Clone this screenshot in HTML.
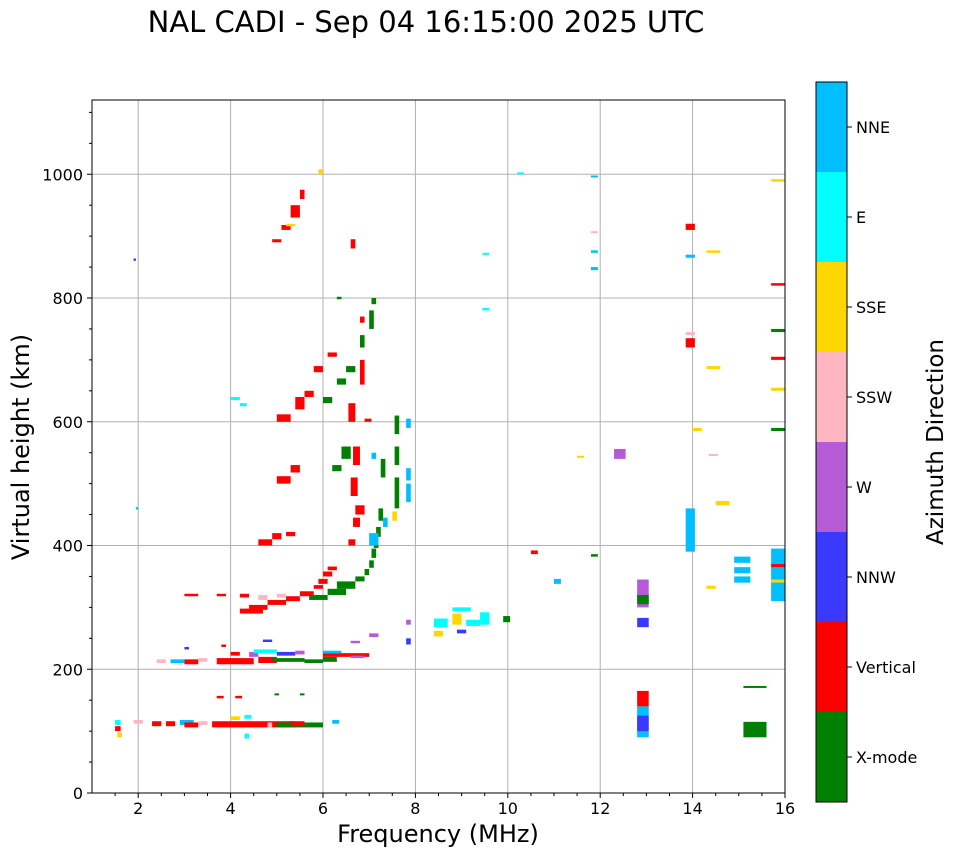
<!DOCTYPE html>
<html><head><meta charset="utf-8"><style>
body{margin:0;background:#fff;}
svg{display:block;font-family:"DejaVu Sans","Liberation Sans",sans-serif;}
</style></head><body>
<svg id="chart" width="958" height="857" viewBox="0 0 958 857" xmlns="http://www.w3.org/2000/svg">
<text x="426" y="32" font-size="29" text-anchor="middle">NAL CADI - Sep 04 16:15:00 2025 UTC</text>
<g id="grid"></g>
<g id="marks"></g>
<rect x="92" y="100" width="693" height="693" fill="none" stroke="#000" stroke-width="1"/>
<g id="axes"></g>
<text x="438" y="842" font-size="24" text-anchor="middle">Frequency (MHz)</text>
<text transform="translate(29,447) rotate(-90)" font-size="24" text-anchor="middle">Virtual height (km)</text>
<g id="cbar"></g>
<text transform="translate(943,442) rotate(-90)" font-size="23" text-anchor="middle">Azimuth Direction</text>
</svg>
<script>
const categories = ["X-mode","Vertical","NNW","W","SSW","SSE","E","NNE"];
const catColors = ["#008000","#ff0000","#3a3aff","#b55bd6","#ffb6c1","#ffd700","#00ffff","#00bfff"];
const xTicks = [2,4,6,8,10,12,14,16];
const yTicks = [0,200,400,600,800,1000];
// echoes: [freqStart, freqEnd, heightStart, heightEnd, categoryIndex]
const echoes = [
[1.5,1.62,110,118,6],[1.5,1.62,100,108,1],[1.55,1.65,90,98,5],[1.9,2.1,112,118,4],[2.3,2.5,108,116,1],[2.6,2.8,108,116,1],[2.9,3.2,110,118,7],[3.0,3.3,106,114,1],[3.3,3.5,110,116,4],[3.6,5.4,106,116,1],[4.0,4.2,118,124,5],[4.3,4.4,88,96,6],[5.0,6.0,106,114,0],[5.3,5.6,108,116,1],[6.2,6.35,112,118,7],[4.3,4.45,120,126,6],[4.8,4.9,106,114,4],
[4.95,5.05,158,161,0],[5.5,5.6,158,161,0],[3.7,3.85,153,157,1],[4.1,4.25,153,157,1],
[2.4,2.6,210,216,4],[2.7,3.0,210,216,7],[3.0,3.3,208,216,1],[3.3,3.5,212,218,4],[3.7,4.5,208,218,1],[4.0,4.2,222,228,1],[4.4,4.6,220,228,3],[4.6,5.0,210,220,1],[4.5,5.0,226,232,6],[4.9,5.6,212,218,0],[5.0,5.4,222,228,2],[5.6,6.0,210,216,0],[5.4,5.6,224,230,3],[6.0,6.3,212,220,0],[6.0,7.0,220,226,1],[6.6,6.9,218,222,3],[6.0,6.4,226,230,7],[7.0,7.2,252,258,3],[6.6,6.8,242,246,3],[4.7,4.9,244,248,2],[3.8,3.9,236,240,1],[3.0,3.1,232,236,2],
[3.0,3.3,318,322,1],[3.7,3.9,318,322,1],[4.2,4.4,316,322,1],[4.2,4.7,290,298,1],[4.4,4.8,296,304,1],[4.8,5.2,304,312,1],[5.2,5.5,310,318,1],[5.5,5.8,318,326,1],[5.8,6.0,330,336,1],[5.9,6.1,338,346,1],[6.0,6.2,350,358,1],[6.1,6.3,360,366,1],[4.6,4.8,312,320,4],[5.0,5.2,316,322,4],
[5.7,6.1,312,320,0],[6.1,6.5,320,330,0],[6.3,6.7,330,342,0],[6.7,6.9,342,350,0],[6.9,7.0,352,362,0],[7.0,7.1,364,376,0],[7.05,7.15,380,395,0],[7.1,7.2,396,410,0],[7.15,7.25,414,430,0],[7.2,7.3,440,460,0],[7.55,7.65,460,510,0],[7.55,7.65,530,560,0],[7.55,7.65,580,610,0],[7.25,7.35,510,540,0],
[7.0,7.2,400,420,7],[7.3,7.4,430,445,7],[7.5,7.6,440,455,5],[7.8,7.9,470,500,7],[7.8,7.9,505,525,7],[7.8,7.9,590,605,7],[7.05,7.15,540,550,7],
[6.55,6.7,400,410,1],[6.65,6.8,430,445,1],[6.7,6.9,450,465,1],[6.6,6.75,480,510,1],[6.55,6.7,600,630,1],[6.65,6.8,530,560,1],[6.9,7.05,600,605,1],[6.8,6.9,660,700,1],[6.8,6.9,760,770,1],[6.6,6.7,880,895,1],
[6.2,6.4,520,530,0],[6.4,6.6,540,560,0],[6.0,6.2,630,640,0],[6.3,6.5,660,670,0],[6.5,6.7,680,690,0],[6.8,6.9,720,740,0],[7.0,7.1,750,780,0],[7.05,7.15,790,800,0],[6.3,6.4,798,802,0],
[5.0,5.3,600,612,1],[5.4,5.6,620,640,1],[5.6,5.8,640,650,1],[5.3,5.5,518,530,1],[5.0,5.3,500,512,1],[4.9,5.1,410,420,1],[5.2,5.4,415,422,1],[4.6,4.9,400,410,1],[5.8,6.0,680,690,1],[6.1,6.3,705,712,1],[4.9,5.1,890,895,1],[5.1,5.3,910,918,1],[5.3,5.5,930,950,1],[5.5,5.6,960,975,1],[5.9,6.0,1000,1008,5],[5.2,5.4,916,920,5],
[4.0,4.2,635,640,6],[4.2,4.35,625,630,6],
[8.4,8.7,268,282,6],[8.4,8.6,253,262,5],[8.8,9.0,272,290,5],[8.8,9.2,294,300,6],[9.1,9.4,270,280,6],[9.4,9.6,272,292,6],[8.9,9.1,258,264,2],[7.8,7.9,240,250,2],[7.8,7.9,272,280,3],
[9.9,10.05,276,286,0],[10.5,10.65,386,392,1],[11.0,11.15,338,346,7],[11.8,11.95,382,386,0],[12.3,12.55,540,556,3],[11.5,11.65,542,545,5],[12.8,13.05,268,283,2],[12.8,13.05,300,345,3],[12.8,13.05,305,320,0],[12.8,13.05,90,140,7],[12.8,13.05,140,165,1],[12.8,13.05,100,125,2],
[13.85,14.05,390,460,7],[13.85,14.05,720,735,1],[13.85,14.05,910,920,1],[13.85,14.05,865,870,7],[14.0,14.2,585,590,5],[14.3,14.5,330,335,5],[14.5,14.8,465,472,5],[14.3,14.6,685,690,5],[14.3,14.6,873,877,5],[14.9,15.25,340,350,7],[14.9,15.25,355,365,7],[14.9,15.25,372,382,7],[15.1,15.6,90,115,0],[15.1,15.6,170,173,0],[15.7,16.0,310,395,7],[15.7,16.0,365,370,1],[15.7,16.0,700,705,1],[15.7,16.0,820,824,1],[15.7,16.0,988,992,5],[15.7,16.0,585,590,0],[15.7,16.0,745,750,0],[15.7,16.0,650,655,5],[15.7,16.0,340,345,5],
[1.9,1.95,860,864,2],[1.95,2.0,458,462,7],[11.8,11.95,995,998,7],[11.8,11.95,873,877,7],[11.8,11.95,845,850,7],[10.2,10.35,1000,1003,6],[9.45,9.6,780,784,6],[9.45,9.6,870,873,6],[11.8,11.95,905,908,4],[13.85,14.05,740,745,4],[14.35,14.55,545,548,4]
];
const NS="http://www.w3.org/2000/svg";
const X0=92,X1=785,Y0=793,Y1=100,FMIN=1,FMAX=16,HMIN=0,HMAX=1120;
const xs=f=>X0+(f-FMIN)/(FMAX-FMIN)*(X1-X0);
const ys=h=>Y0-(h-HMIN)/(HMAX-HMIN)*(Y0-Y1);
function mk(tag,attrs,parent){const e=document.createElementNS(NS,tag);for(const k in attrs)e.setAttribute(k,attrs[k]);parent.appendChild(e);return e;}
const grid=document.getElementById('grid'),marks=document.getElementById('marks'),axes=document.getElementById('axes'),cbar=document.getElementById('cbar');
xTicks.forEach(t=>{const x=xs(t);
 const g=mk('line',{x1:x,x2:x,y1:Y1,y2:Y0,stroke:'#b0b0b0','stroke-width':1},grid);
 
 
 mk('line',{x1:x,x2:x,y1:Y0,y2:Y0+5,stroke:'#000'},axes);
 const l=mk('text',{x:x,y:Y0+21,'font-size':16,'text-anchor':'middle'},axes);l.textContent=t;
 
 
});
yTicks.forEach(t=>{const y=ys(t);
 const g=mk('line',{x1:X0,x2:X1,y1:y,y2:y,stroke:'#b0b0b0','stroke-width':1},grid);
 
 
 mk('line',{x1:X0-5,x2:X0,y1:y,y2:y,stroke:'#000'},axes);
 const l=mk('text',{x:X0-9,y:y+6,'font-size':16,'text-anchor':'end'},axes);l.textContent=t;
 
 
});
for(let f=1.5;f<=16;f+=0.5){if(Number.isInteger(f/2))continue;const x=xs(f);mk('line',{x1:x,x2:x,y1:Y0,y2:Y0+3,stroke:'#000'},axes);}
for(let h=50;h<=1100;h+=50){if(h%200===0)continue;const y=ys(h);mk('line',{x1:X0-3,x2:X0,y1:y,y2:y,stroke:'#000'},axes);}
echoes.forEach(d=>{
 const x=xs(d[0]),w=Math.max(2,xs(d[1])-xs(d[0]));const y=ys(d[3]),h=Math.max(2,ys(d[2])-ys(d[3]));
 const r=mk('rect',{x:x,y:y,width:w,height:h,fill:catColors[d[4]]},marks);
 
 
});
const CX=816,CW=31,CT=82,CB=802,seg=(CB-CT)/categories.length;
categories.forEach((c,i)=>{const y=CB-(i+1)*seg;
 const r=mk('rect',{x:CX,y:y,width:CW,height:seg,fill:catColors[i]},cbar);
 
 
 mk('line',{x1:CX+CW,x2:CX+CW+5,y1:y+seg/2,y2:y+seg/2,stroke:'#000'},cbar);
 const l=mk('text',{x:CX+CW+9,y:y+seg/2+6,'font-size':16},cbar);l.textContent=c;
 
 
});
mk('rect',{x:CX,y:CT,width:CW,height:CB-CT,fill:'none',stroke:'#000'},cbar);
</script>
</body></html>
